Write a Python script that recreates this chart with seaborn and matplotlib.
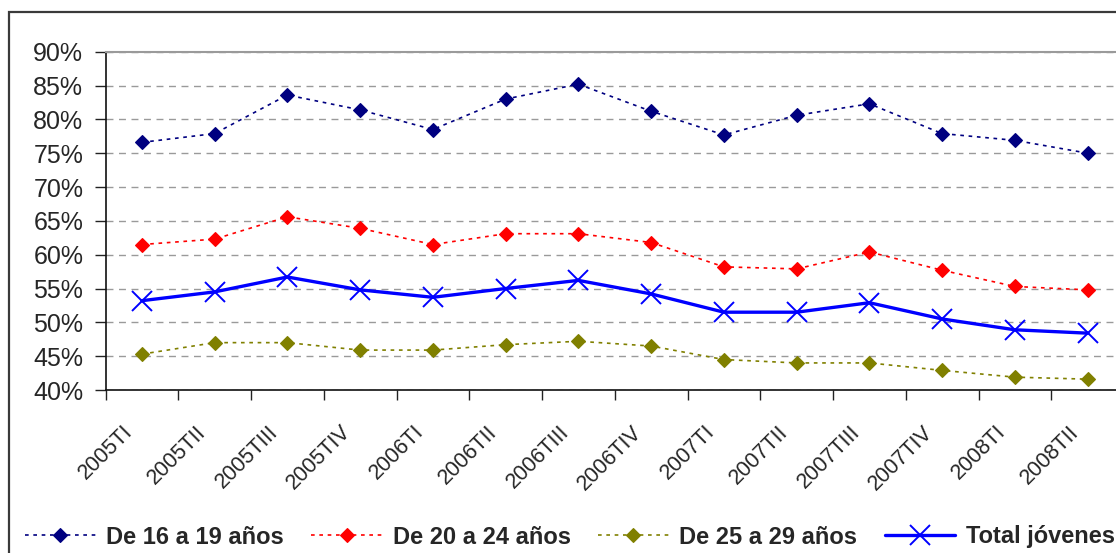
import numpy as np
import pandas as pd
import matplotlib
matplotlib.use('Agg')
import matplotlib.pyplot as plt
import matplotlib.transforms as mtransforms
from matplotlib.patches import Rectangle
import seaborn as sns

periodos = ['2005TI', '2005TII', '2005TIII', '2005TIV', '2006TI', '2006TII', '2006TIII',
            '2006TIV', '2007TI', '2007TII', '2007TIII', '2007TIV', '2008TI', '2008TII']

de_16_19 = [76.6, 77.9, 83.6, 81.4, 78.5, 83.0, 85.2, 81.2, 77.7, 80.6, 82.3, 77.9, 76.9, 75.0]
de_20_24 = [61.5, 62.3, 65.6, 63.9, 61.5, 63.1, 63.1, 61.8, 58.2, 57.9, 60.4, 57.7, 55.3, 54.8]
de_25_29 = [45.3, 47.0, 47.0, 45.9, 45.9, 46.7, 47.2, 46.5, 44.5, 44.0, 44.0, 42.9, 41.9, 41.6]
total_jovenes = [53.2, 54.5, 56.7, 54.8, 53.7, 55.0, 56.2, 54.2, 51.5, 51.5, 52.9, 50.5, 48.9, 48.4]

y_ticks = [40, 45, 50, 55, 60, 65, 70, 75, 80, 85, 90]

sns.set_style('white')
plt.rcParams['font.family'] = ['Liberation Sans', 'DejaVu Sans']

df = pd.DataFrame({
    'pos': np.arange(len(periodos)),
    'periodo': periodos,
    'De 16 a 19 años': de_16_19,
    'De 20 a 24 años': de_20_24,
    'De 25 a 29 años': de_25_29,
    'Total jóvenes': total_jovenes,
})

fig = plt.figure(figsize=(11.16, 5.53), dpi=100)
W, H = 1116, 553
# plot area runs past the right edge of the picture, as in the original
ax = fig.add_axes([105.5 / W, 1 - 390 / H, (1124 - 105.5) / W, (390 - 51.7) / H])

# outer chart border
fig.patches.append(Rectangle((9 / W, -0.1), 1.2, 1 - 12 / H + 0.1, transform=fig.transFigure,
                             fill=False, edgecolor='#3a3a3a', linewidth=1.6, clip_on=False))

dotted = (0, (2.2, 2.8))
series = [
    ('De 16 a 19 años', '#000080', 'D', 7, dotted, 1.2),
    ('De 20 a 24 años', '#FF0000', 'D', 7, dotted, 1.2),
    ('De 25 a 29 años', '#808000', 'D', 7, dotted, 1.2),
    ('Total jóvenes', '#0000FF', 'x', 14, '-', 2.4),
]
for name, color, marker, ms, ls, lw in series:
    sns.lineplot(data=df, x='pos', y=name, ax=ax, color=color, marker=marker,
                 markersize=ms, markeredgecolor=color, markerfacecolor=color,
                 markeredgewidth=1.4 if marker == 'x' else 0.8,
                 linestyle=ls, linewidth=lw, label=name, zorder=3)

ax.set_xlim(-0.5, len(periodos) - 0.5)
ax.set_ylim(40, 90)
ax.set_yticks(y_ticks)
ax.set_yticklabels([f'{v}%' for v in y_ticks], fontsize=18)
ax.set_xticks(np.arange(-0.5, len(periodos), 1.0))
ax.set_xticklabels([])
ax.set_xticks(np.arange(len(periodos)), minor=True)
ax.set_xticklabels(periodos, minor=True, rotation=45, ha='right', va='center',
                   rotation_mode='anchor', fontsize=15.5)
ax.tick_params(axis='x', which='minor', length=0, pad=28)
ax.tick_params(axis='x', which='major', direction='out', length=7, width=1, color='#222222', bottom=True)
ax.tick_params(axis='y', direction='out', length=8, width=1, color='#222222', left=True, pad=8)
offset = mtransforms.ScaledTranslation(-0.12, 0, fig.dpi_scale_trans)
for lbl in ax.get_xticklabels(minor=True):
    lbl.set_transform(lbl.get_transform() + offset)

ax.set_xlabel('')
ax.set_ylabel('')
ax.yaxis.grid(True, linestyle=(0, (5, 4)), color='#9a9a9a', linewidth=1)
ax.xaxis.grid(False)
for side in ['left', 'bottom']:
    ax.spines[side].set_color('#111111')
    ax.spines[side].set_linewidth(1.2)
ax.spines['top'].set_color('#9a9a9a')
ax.spines['top'].set_linewidth(1.5)
ax.spines['right'].set_visible(False)

handles, labels = ax.get_legend_handles_labels()
ax.get_legend().remove()
fig.legend(handles, labels, loc='center left', bbox_to_anchor=(25 / W, 1 - 537 / H), ncol=4,
           frameon=False, prop={'weight': 'bold', 'size': 17}, handlelength=3.0,
           handletextpad=0.45, columnspacing=1.15, borderaxespad=0, borderpad=0)

fig.savefig('out.png', dpi=100)
